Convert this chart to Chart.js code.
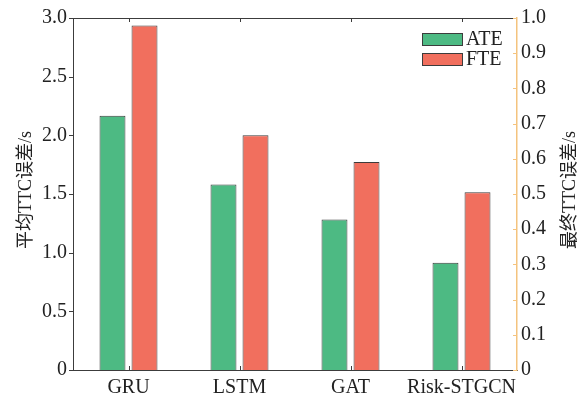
<!DOCTYPE html>
<html>
<head>
<meta charset="utf-8">
<script src="https://cdn.jsdelivr.net/npm/chart.js@4"></script>
<style>
  html, body { margin: 0; padding: 0; background: #fff; }
</style>
</head>
<body>
<canvas id="chart" width="581" height="400"></canvas>
<script>
// data
const categories = ["GRU", "LSTM", "GAT", "Risk-STGCN"];
const seriesNames = ["ATE", "FTE"];
const ateValues = [2.167, 1.58, 1.283, 0.915];   // left axis (s)
const fteValues = [0.979, 0.667, 0.591, 0.505];  // right axis (s)
const leftTicks = [0, 0.5, 1.0, 1.5, 2.0, 2.5, 3.0];
const rightTicks = [0, 0.1, 0.2, 0.3, 0.4, 0.5, 0.6, 0.7, 0.8, 0.9, 1.0];
const leftTitle = "平均TTC误差/s";
const rightTitle = "最终TTC误差/s";

const GREEN = "#4dba83";
const RED = "#f16f5e";
const DARK = "#3c3c3c";
const ORANGE = "#f4c37e";
const FONT = "'Liberation Serif', 'Noto Sans CJK SC', serif";

function fmt(v) {
    return v === 0 ? "0" : Number(v).toFixed(1);
}

// frame, inward ticks, rotated titles and legend
const decor = {
    id: "decor",
    afterDraw(chart) {
        const ctx = chart.ctx;
        const a = chart.chartArea;
        const x = chart.scales.x, y = chart.scales.y, y1 = chart.scales.y1;
        ctx.save();
        ctx.lineWidth = 1;
        ctx.strokeStyle = DARK;
        ctx.beginPath();
        ctx.moveTo(a.left, a.top + 0.5);
        ctx.lineTo(a.right, a.top + 0.5);
        // category ticks top and bottom
        categories.forEach((c, i) => {
            const px = Math.round(x.getPixelForValue(i)) + 0.5;
            ctx.moveTo(px, a.top);
            ctx.lineTo(px, a.top + 4);
            ctx.moveTo(px, a.bottom);
            ctx.lineTo(px, a.bottom - 4);
        });
        // left ticks
        leftTicks.forEach(v => {
            const py = Math.round(y.getPixelForValue(v)) + 0.5;
            ctx.moveTo(a.left - 4, py);
            ctx.lineTo(a.left, py);
        });
        ctx.stroke();

        ctx.strokeStyle = ORANGE;
        ctx.beginPath();
        rightTicks.forEach(v => {
            const py = Math.round(y1.getPixelForValue(v)) + 0.5;
            ctx.moveTo(a.right - 4, py);
            ctx.lineTo(a.right, py);
        });
        ctx.stroke();

        // axis titles, both read bottom to top
        ctx.fillStyle = "#222";
        ctx.font = "18px " + FONT;
        ctx.textAlign = "center";
        ctx.textBaseline = "middle";
        [[26, leftTitle], [570, rightTitle]].forEach(([tx, txt]) => {
            ctx.save();
            ctx.translate(tx, 190);
            ctx.rotate(-Math.PI / 2);
            ctx.fillText(txt, 0, 0);
            ctx.restore();
        });

        // legend
        ctx.font = "20px " + FONT;
        ctx.textAlign = "left";
        chart.data.datasets.forEach((ds, i) => {
            const ly = 33 + i * 20;
            ctx.fillStyle = ds.backgroundColor;
            ctx.fillRect(422, ly, 41, 13);
            ctx.strokeStyle = DARK;
            ctx.strokeRect(422.5, ly + 0.5, 40, 12);
            ctx.fillStyle = "#222";
            ctx.fillText(ds.label, 466, ly + 7);
        });
        ctx.restore();
    }
};

new Chart(document.getElementById("chart").getContext("2d"), {
    type: "bar",
    data: {
        labels: categories,
        datasets: [
            {
                label: seriesNames[0],
                data: ateValues,
                yAxisID: "y",
                backgroundColor: GREEN,
                borderColor: DARK,
                borderWidth: 1
            },
            {
                label: seriesNames[1],
                data: fteValues,
                yAxisID: "y1",
                backgroundColor: RED,
                borderColor: DARK,
                borderWidth: 1
            }
        ]
    },
    options: {
        responsive: false,
        animation: false,
        devicePixelRatio: 1,
        categoryPercentage: 0.577,
        barPercentage: 0.81,
        layout: { padding: { top: 17, left: 0, right: 0, bottom: 0 } },
        plugins: {
            legend: { display: false },
            tooltip: { enabled: false }
        },
        scales: {
            x: {
                grid: { display: false, drawTicks: false },
                border: { display: true, color: DARK, width: 1 },
                ticks: { color: "#222", font: { family: FONT, size: 20 }, padding: 6, maxRotation: 0, autoSkip: false },
                afterFit(s) { s.height = 30; }
            },
            y: {
                position: "left",
                min: 0,
                max: 3,
                grid: { display: false, drawTicks: false },
                border: { display: true, color: DARK, width: 1 },
                afterBuildTicks(s) { s.ticks = leftTicks.map(v => ({ value: v })); },
                ticks: { color: "#222", font: { family: FONT, size: 20 }, padding: 6, callback: fmt },
                afterFit(s) { s.width = 73; }
            },
            y1: {
                position: "right",
                min: 0,
                max: 1,
                grid: { display: false, drawTicks: false },
                border: { display: true, color: ORANGE, width: 1.5 },
                afterBuildTicks(s) { s.ticks = rightTicks.map(v => ({ value: v })); },
                ticks: { color: "#222", font: { family: FONT, size: 20 }, padding: 4, callback: fmt },
                afterFit(s) { s.width = 64; }
            }
        }
    },
    plugins: [decor]
});
</script>
</body>
</html>
